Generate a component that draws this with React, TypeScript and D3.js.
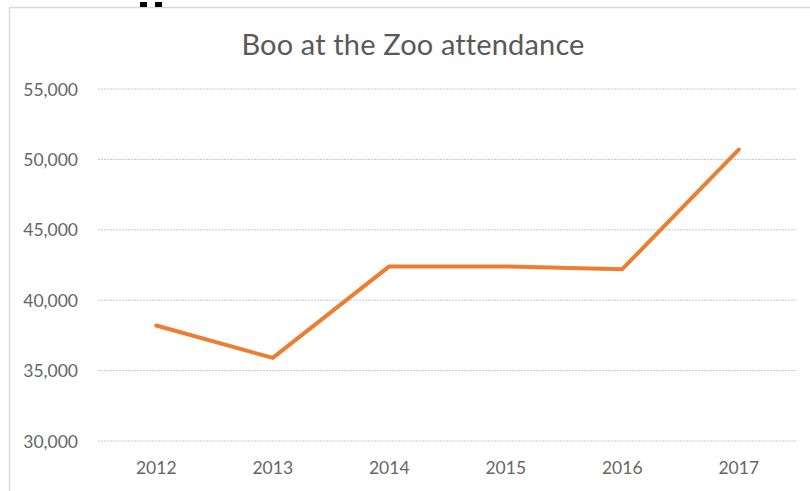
import React from "react";
import * as d3 from "d3";

const years = ["2012", "2013", "2014", "2015", "2016", "2017"];
const attendance = [38200, 35900, 42400, 42400, 42200, 50700];
const yTicks = [30000, 35000, 40000, 45000, 50000, 55000];

const App = () => {
  const width = 810;
  const height = 491;
  const margin = { top: 89, right: 13, bottom: 50, left: 98 };

  const x = d3
    .scaleBand()
    .domain(years)
    .range([margin.left, width - margin.right]);
  const y = d3
    .scaleLinear()
    .domain([30000, 55000])
    .range([height - margin.bottom, margin.top]);

  const line = d3
    .line<number>()
    .x((d, i) => (x(years[i]) as number) + x.bandwidth() / 2)
    .y(d => y(d));

  const fmt = d3.format(",");
  const font = "Lato, sans-serif";

  return (
    <svg
      width={width}
      height={height}
      style={{ position: "absolute", left: 0, top: 0, background: "#fff" }}
    >
      <rect x={9.5} y={7.5} width={width} height={height} fill="#fff" stroke="#d9d9d9" strokeWidth={1.5} />
      <rect x={140} y={2} width={7} height={5} fill="#000" />
      <rect x={155} y={2} width={7} height={5} fill="#000" />
      <text x={413} y={55} textAnchor="middle" fontFamily={font} fontSize={29} letterSpacing={0.15} fill="#595959">
        Boo at the Zoo attendance
      </text>
      {yTicks.map(t => (
        <g key={t}>
          <line
            x1={margin.left}
            x2={width - margin.right}
            y1={y(t)}
            y2={y(t)}
            stroke="#c8c8c8"
            strokeWidth={1}
            strokeDasharray="2,1"
          />
          <text x={78} y={y(t) + 6.5} textAnchor="end" fontFamily={font} fontSize={17.5} fill="#666">
            {fmt(t)}
          </text>
        </g>
      ))}
      {years.map(yr => (
        <text
          key={yr}
          x={(x(yr) as number) + x.bandwidth() / 2}
          y={474}
          textAnchor="middle"
          fontFamily={font}
          fontSize={17.5}
          fill="#666"
        >
          {yr}
        </text>
      ))}
      <path
        d={line(attendance) as string}
        fill="none"
        stroke="#ed7d31"
        strokeWidth={4}
        strokeLinejoin="round"
        strokeLinecap="round"
      />
    </svg>
  );
};

export default App;
